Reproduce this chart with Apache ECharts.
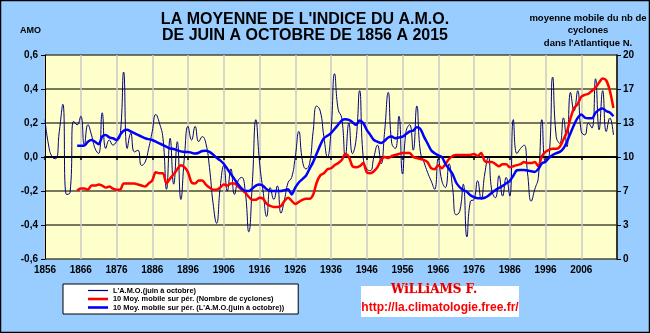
<!DOCTYPE html>
<html><head><meta charset="utf-8">
<script src="https://cdn.jsdelivr.net/npm/echarts@6/dist/echarts.min.js"></script>
<style>html,body{margin:0;padding:0;background:#99CCFF}#c{width:650px;height:333px}</style>
</head><body><div id="c"></div>
<script>
// Years
const firstYear = 1856;
const maStartYear = 1865;
// L'A.M.O. (juin à octobre), 1856-2015
const amo = [
0.22,0.07,0.0,-0.01,0.15,0.31,-0.22,-0.21,0.21,0.19,
0.24,0.07,0.19,0.13,0.05,0.02,0.26,0.05,0.1,0.07,
0.09,0.12,0.5,0.05,0.14,0.03,0.04,-0.05,-0.03,0.05,
0.15,0.25,0.2,0.11,-0.19,0.11,-0.16,0.09,-0.25,0.0,
0.18,0.1,0.18,0.09,0.12,0.08,-0.06,-0.27,-0.39,-0.18,
-0.05,-0.2,-0.07,-0.22,-0.14,-0.12,-0.2,-0.44,-0.15,0.22,
-0.03,-0.2,-0.35,-0.18,-0.25,-0.17,-0.33,-0.25,-0.15,-0.12,
0.0,0.15,-0.02,-0.07,-0.04,0.15,0.3,0.27,0.12,0.0,
0.15,0.49,0.28,0.23,0.0,0.2,0.02,0.1,0.39,0.0,
-0.07,-0.08,0.0,0.07,-0.04,0.15,0.38,0.08,0.05,0.24,
-0.1,0.15,0.19,0.04,0.3,0.03,-0.03,-0.09,-0.14,-0.19,
-0.01,-0.14,-0.18,-0.04,-0.18,-0.34,-0.32,-0.16,-0.47,-0.26,
-0.25,-0.14,-0.25,-0.1,0.0,-0.2,-0.24,-0.11,-0.23,-0.12,
-0.23,0.22,0.02,0.05,0.07,-0.1,-0.26,-0.19,-0.12,0.22,
-0.03,0.0,0.47,0.12,0.08,0.23,0.06,0.38,0.27,0.39,
0.15,0.13,0.2,0.17,0.46,0.16,0.39,0.15,0.23,0.13
];
// 10 Moy. mobile (Nombre de cyclones), 1865-2015
const cycMA = [
6.7,6.9,6.9,6.8,7.2,7.2,7.3,7.2,7.0,7.1,
6.9,6.8,6.8,7.4,7.4,7.4,7.4,7.3,7.2,7.1,
7.4,7.7,8.5,8.4,8.4,7.4,7.9,8.3,8.8,9.2,
9.0,8.5,7.5,7.4,7.7,7.7,7.3,7.0,6.8,6.8,
7.0,7.3,7.2,7.4,7.4,7.1,6.8,6.5,6.1,5.8,
5.8,6.0,5.9,5.4,5.2,5.1,5.1,5.2,5.7,6.0,
5.7,5.4,5.6,5.8,5.9,5.9,6.3,7.5,8.2,8.4,
8.8,8.9,9.2,9.4,9.7,10.3,10.0,9.1,9.0,9.1,
9.4,8.5,8.4,8.6,9.0,9.7,10.0,9.9,10.1,10.2,
10.3,10.4,10.4,10.4,10.0,9.9,9.8,9.7,9.5,8.9,
8.8,9.2,8.9,9.3,9.8,10.1,10.2,10.2,10.2,10.2,
10.2,10.3,10.1,10.4,9.6,9.5,9.5,9.3,9.1,9.3,
9.3,9.0,9.1,9.2,9.3,9.5,9.4,9.4,9.5,9.1,
10.1,10.5,10.7,10.8,10.8,11.0,11.7,12.5,13.8,14.8,
15.2,15.9,16.1,16.2,16.5,16.8,17.3,17.7,17.5,16.5,
14.8
];
// 10 Moy. mobile (L'A.M.O.), 1865-2015
const amoMA = [
0.066,0.066,0.067,0.09,0.1,0.09,0.075,0.12,0.13,0.115,
0.11,0.1,0.13,0.155,0.16,0.15,0.14,0.13,0.12,0.11,
0.105,0.1,0.09,0.08,0.07,0.06,0.05,0.047,0.04,0.033,
0.03,0.03,0.025,0.02,0.025,0.035,0.037,0.03,0.015,-0.005,
-0.02,-0.04,-0.07,-0.1,-0.13,-0.16,-0.185,-0.2,-0.2,-0.185,
-0.168,-0.162,-0.17,-0.19,-0.2,-0.2,-0.2,-0.2,-0.195,-0.19,
-0.22,-0.18,-0.15,-0.13,-0.11,-0.07,-0.03,0.02,0.07,0.11,
0.125,0.14,0.165,0.19,0.215,0.222,0.218,0.205,0.188,0.215,
0.2,0.16,0.13,0.1,0.09,0.082,0.095,0.115,0.12,0.11,
0.115,0.12,0.135,0.15,0.155,0.175,0.165,0.12,0.08,0.04,
0.022,0.01,0.0,-0.04,-0.07,-0.1,-0.15,-0.178,-0.195,-0.205,
-0.225,-0.236,-0.243,-0.243,-0.24,-0.228,-0.21,-0.195,-0.182,-0.17,
-0.155,-0.14,-0.11,-0.078,-0.076,-0.077,-0.08,-0.084,-0.088,-0.07,
-0.038,-0.028,-0.005,0.012,0.022,0.03,0.05,0.09,0.14,0.19,
0.23,0.25,0.232,0.228,0.228,0.26,0.278,0.285,0.27,0.262,
0.24
];
const seriesNames = ["L'A.M.O.(juin à octobre)", "10 Moy. mobile sur pér. (Nombre de cyclones)", "10 Moy. mobile sur pér. (L'A.M.O.(juin à octobre))"];

const F = 'Liberation Sans, Arial, sans-serif';
const amoData = amo.map((v,i)=>[firstYear+i, v]);
const cycData = cycMA.map((v,i)=>[maStartYear+i, v]);
const amoMAData = amoMA.map((v,i)=>[maStartYear+i, v]);

const thinIcon = 'path://M0,0L20,0L20,1.2L0,1.2Z';
const thickIcon = 'path://M0,0L20,0L20,2.6L0,2.6Z';

const chart = echarts.init(document.getElementById('c'), null, {renderer:'canvas'});
chart.setOption({
  backgroundColor:'#99CCFF',
  animation:false,
  title:{
    text:"LA MOYENNE DE L'INDICE DU A.M.O.\nDE JUIN A OCTOBRE DE 1856 A 2015",
    left:300, top:7, textAlign:'center',
    textStyle:{fontFamily:F, fontSize:16, fontWeight:'bold', color:'#000', lineHeight:16}
  },
  grid:{left:45, right:33, top:55, bottom:74, show:true, backgroundColor:'#FFFFCC', borderWidth:0},
  xAxis:[{
    type:'value', min:1856, max:2016, interval:10,
    axisLine:{show:false, onZero:false},
    axisTick:{show:false},
    axisLabel:{margin:6, color:'#000', fontFamily:F, fontSize:10, fontWeight:'bold', showMaxLabel:false,
      formatter:v=> v>=2016 ? '' : String(v)},
    splitLine:{show:true, lineStyle:{color:'#C8C8C8', width:1.5}}
  },{
    type:'value', min:1856, max:2016, interval:10, position:'bottom',
    axisLine:{show:true, onZero:true, onZeroAxisIndex:0, lineStyle:{color:'#000', width:2}},
    axisTick:{show:true, length:3, inside:false, lineStyle:{color:'#000', width:1.5}},
    axisLabel:{show:false}, splitLine:{show:false}
  }],
  yAxis:[{
    type:'value', min:-0.6, max:0.6, interval:0.2, position:'left',
    axisLine:{show:true, onZero:false, lineStyle:{color:'#000', width:1}},
    axisTick:{show:true, length:4, lineStyle:{color:'#000'}},
    axisLabel:{margin:7, color:'#000', fontFamily:F, fontSize:10, fontWeight:'bold',
      formatter:v=>{const r=Math.round(v*10)/10; return (r===0?'0.0':r.toFixed(1)).replace('.',',');}},
    splitLine:{show:true, lineStyle:{color:'#4a4a3a', width:1.5}}
  },{
    type:'value', min:0, max:20, interval:20/6, position:'right',
    axisLine:{show:true, onZero:false, lineStyle:{color:'#000', width:1.5}},
    axisTick:{show:true, length:4, lineStyle:{color:'#000'}},
    axisLabel:{margin:6, color:'#000', fontFamily:F, fontSize:10, fontWeight:'bold',
      formatter:v=>String(Math.round(v))},
    splitLine:{show:false}
  }],
  legend:{
    orient:'vertical', left:63, top:284, itemGap:1.5, itemWidth:20, itemHeight:10,
    padding:[3,14,3,25], backgroundColor:'#fff', borderColor:'#000', borderWidth:1,
    symbolKeepAspect:true,
    textStyle:{fontFamily:F, fontSize:7.4, fontWeight:'bold', color:'#000'},
    data:[
      {name:seriesNames[0], icon:thinIcon, itemStyle:{color:'#000080'}},
      {name:seriesNames[1], icon:thickIcon, itemStyle:{color:'#FF0000'}},
      {name:seriesNames[2], icon:thickIcon, itemStyle:{color:'#0000FF'}}
    ]
  },
  series:[
    {name:seriesNames[0], type:'line', data:amoData, xAxisIndex:0, yAxisIndex:0, smooth:0.5, symbol:'none',
      lineStyle:{color:'#000080', width:1}, itemStyle:{color:'#000080'}},
    {name:seriesNames[1], type:'line', data:cycData, xAxisIndex:0, yAxisIndex:1, smooth:0.3, symbol:'none',
      lineStyle:{color:'#FF0000', width:2.5}, itemStyle:{color:'#FF0000'}},
    {name:seriesNames[2], type:'line', data:amoMAData, xAxisIndex:0, yAxisIndex:0, smooth:0.3, symbol:'none',
      lineStyle:{color:'#0000FF', width:2.5}, itemStyle:{color:'#0000FF'}}
  ],
  graphic:[
    {type:'text', left:20, top:26, style:{text:'AMO', font:'bold 9px '+F, fill:'#000'}},
    {type:'text', x:588, y:12, style:{text:"moyenne mobile du nb de\ncyclones\ndans l'Atlantique N.", font:'bold 9.5px '+F, fill:'#000', align:'center', lineHeight:12.5}},
    {type:'rect', shape:{x:361, y:286, width:158, height:31}, style:{fill:'#fff'}},
    {type:'text', x:434, y:284, style:{text:'WiLLiAMS F.', font:'bold 12px DejaVu Serif', fill:'#E00000', align:'center', stroke:'#ffaaaa', lineWidth:0.5}},
    {type:'text', x:440, y:302, style:{text:'http://la.climatologie.free.fr/', font:'bold 12px '+F, fill:'#FF0000', align:'center'}},
    {type:'rect', shape:{x:0.5, y:0.5, width:649, height:332}, style:{fill:'none', stroke:'#000', lineWidth:1.5}}
  ]
});
</script></body></html>
